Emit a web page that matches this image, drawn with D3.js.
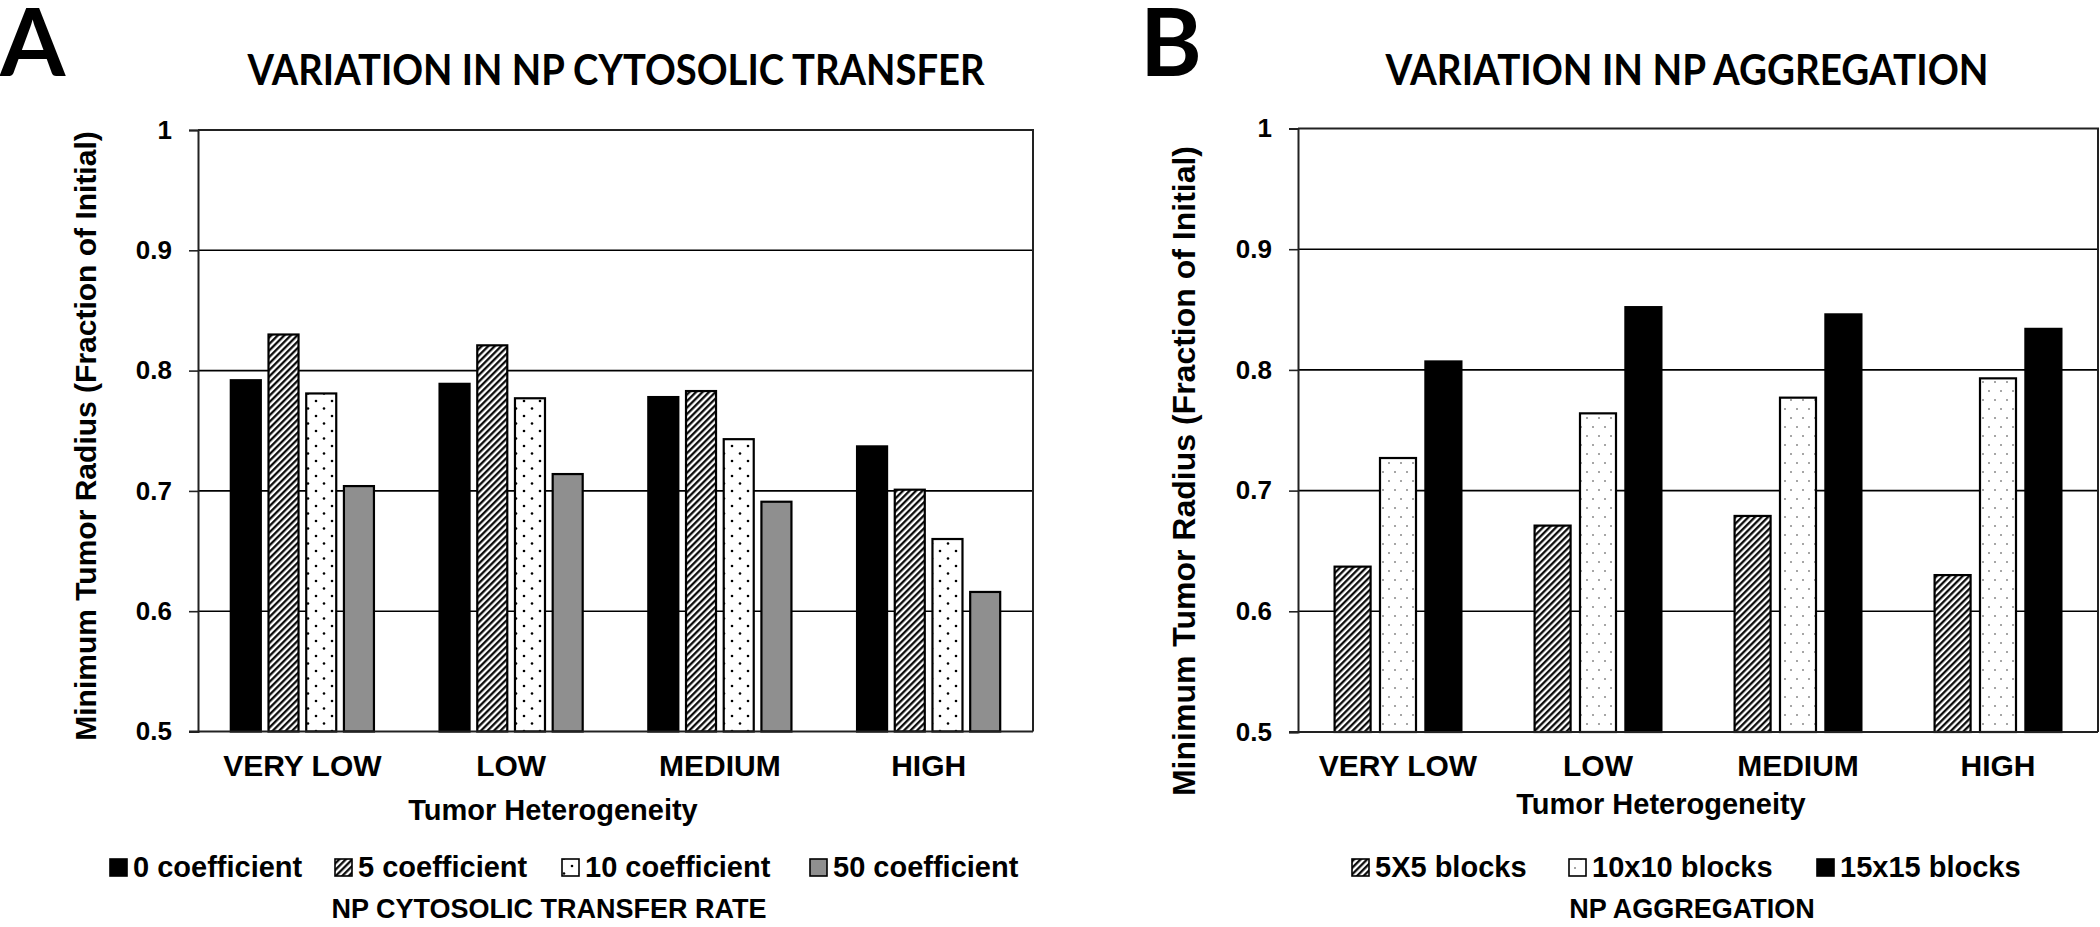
<!DOCTYPE html>
<html>
<head>
<meta charset="utf-8">
<script src="https://cdn.jsdelivr.net/npm/d3@7/dist/d3.min.js"></script>
<style>
  html, body { margin: 0; padding: 0; background: #fff; }
  svg { display: block; }
</style>
</head>
<body>
<svg id="chart" width="2100" height="927"></svg>
<script>
// ---------- DATA ----------
const categories = ["VERY LOW", "LOW", "MEDIUM", "HIGH"];
const yTickValues = [0.5, 0.6, 0.7, 0.8, 0.9, 1];
const yTickLabels = ["0.5", "0.6", "0.7", "0.8", "0.9", "1"];

// Panel A: variation in NP cytosolic transfer
const seriesA = ["0 coefficient", "5 coefficient", "10 coefficient", "50 coefficient"];
const coef0  = [0.792, 0.789, 0.778, 0.737];
const coef5  = [0.830, 0.821, 0.783, 0.701];
const coef10 = [0.781, 0.777, 0.743, 0.660];
const coef50 = [0.704, 0.714, 0.691, 0.616];

// Panel B: variation in NP aggregation
const seriesB = ["5X5 blocks", "10x10 blocks", "15x15 blocks"];
const blocks5  = [0.637, 0.671, 0.679, 0.630];
const blocks10 = [0.727, 0.764, 0.777, 0.793];
const blocks15 = [0.807, 0.852, 0.846, 0.834];

const titleA = "VARIATION IN NP CYTOSOLIC TRANSFER";
const titleB = "VARIATION IN NP AGGREGATION";
const yTitle = "Minimum Tumor Radius (Fraction of Initial)";
const xTitle = "Tumor Heterogeneity";
const legendTitleA = "NP CYTOSOLIC TRANSFER RATE";
const legendTitleB = "NP AGGREGATION";

// ---------- SETUP ----------
const svg = d3.select("#chart");
const ARIAL = "'Liberation Sans', Arial, sans-serif";
const CAL = "Lato, 'Open Sans', sans-serif";

const defs = svg.append("defs");
// diagonal hatch
const hatch = defs.append("pattern").attr("id", "hatch")
  .attr("patternUnits", "userSpaceOnUse").attr("width", 4.6).attr("height", 10)
  .attr("patternTransform", "rotate(45)");
hatch.append("rect").attr("width", 4.6).attr("height", 10).attr("fill", "#fff");
hatch.append("line").attr("x1", 1.2).attr("y1", 0).attr("x2", 1.2).attr("y2", 10)
  .attr("stroke", "#000").attr("stroke-width", 2.2);
// sparse black dots (panel A)
const dotsA = defs.append("pattern").attr("id", "dotsA")
  .attr("patternUnits", "userSpaceOnUse").attr("width", 16).attr("height", 15);
dotsA.append("rect").attr("width", 16).attr("height", 15).attr("fill", "#fff");
dotsA.append("circle").attr("cx", 4).attr("cy", 3.5).attr("r", 1.3).attr("fill", "#000");
dotsA.append("circle").attr("cx", 12).attr("cy", 11).attr("r", 1.3).attr("fill", "#000");
// light gray dots (panel B)
const dotsB = defs.append("pattern").attr("id", "dotsB")
  .attr("patternUnits", "userSpaceOnUse").attr("width", 12).attr("height", 18);
dotsB.append("rect").attr("width", 12).attr("height", 18).attr("fill", "#fff");
dotsB.append("circle").attr("cx", 3).attr("cy", 4).attr("r", 1).attr("fill", "#888");
dotsB.append("circle").attr("cx", 9).attr("cy", 13).attr("r", 1).attr("fill", "#888");

const stylesA = [
  { fill: "#000", stroke: "#000" },
  { fill: "url(#hatch)", stroke: "#000" },
  { fill: "url(#dotsA)", stroke: "#000" },
  { fill: "#8f8f8f", stroke: "#000" }
];
const stylesB = [
  { fill: "url(#hatch)", stroke: "#000" },
  { fill: "url(#dotsB)", stroke: "#000" },
  { fill: "#000", stroke: "#000" }
];

function panel(cfg) {
  const g = svg.append("g");
  const x0 = d3.scaleBand().domain(categories).range([cfg.left, cfg.right]).paddingInner(0).paddingOuter(0);
  const x1 = d3.scaleBand().domain(cfg.series).range([0, x0.bandwidth()])
    .paddingInner(cfg.pi).paddingOuter(cfg.po);
  const y = d3.scaleLinear().domain([0.5, 1]).range([cfg.bottom, cfg.top]);

  // gridlines
  g.append("g").selectAll("line").data(yTickValues.slice(1, -1)).join("line")
    .attr("x1", cfg.left).attr("x2", cfg.right)
    .attr("y1", d => y(d)).attr("y2", d => y(d))
    .attr("stroke", "#000").attr("stroke-width", 1.6);

  // bars
  const values = cfg.values;
  cfg.series.forEach((s, si) => {
    g.append("g").selectAll("rect").data(categories).join("rect")
      .attr("x", c => x0(c) + x1(s))
      .attr("y", (c, i) => y(values[si][i]))
      .attr("width", x1.bandwidth())
      .attr("height", (c, i) => y(0.5) - y(values[si][i]))
      .attr("fill", cfg.styles[si].fill)
      .attr("stroke", cfg.styles[si].stroke)
      .attr("stroke-width", 2.2);
  });

  // frame (top & right)
  g.append("path")
    .attr("d", `M${cfg.left},${cfg.top}H${cfg.right}V${cfg.bottom}`)
    .attr("fill", "none").attr("stroke", "#222").attr("stroke-width", 2);

  // y axis
  const yAxis = d3.axisLeft(y).tickValues(yTickValues).tickSize(9).tickPadding(17)
    .tickFormat((d, i) => yTickLabels[i]);
  const ya = g.append("g").attr("transform", `translate(${cfg.left},0)`).call(yAxis);
  ya.select(".domain").attr("stroke", "#222").attr("stroke-width", 2);
  ya.selectAll(".tick line").attr("stroke", "#222").attr("stroke-width", 1.6);
  ya.selectAll(".tick text").attr("font-family", ARIAL).attr("font-weight", "bold")
    .attr("font-size", 26).attr("fill", "#000");

  // x axis
  const xAxis = d3.axisBottom(x0).tickSize(0).tickPadding(23);
  const xa = g.append("g").attr("transform", `translate(0,${cfg.bottom})`).call(xAxis);
  xa.select(".domain").attr("d", `M${cfg.left - 9},0H${cfg.right}`)
    .attr("stroke", "#222").attr("stroke-width", 2);
  xa.selectAll(".tick text").attr("font-family", ARIAL).attr("font-weight", "bold")
    .attr("font-size", 30).attr("fill", "#000");

  // axis titles
  g.append("text").attr("x", cfg.xTitleX).attr("y", cfg.xTitleY)
    .attr("text-anchor", "middle").attr("font-family", ARIAL).attr("font-weight", "bold")
    .attr("font-size", 29).text(xTitle);
  g.append("text")
    .attr("transform", `translate(${cfg.yTitleX},${cfg.yTitleY}) rotate(-90)`)
    .attr("text-anchor", "middle").attr("font-family", ARIAL).attr("font-weight", "bold")
    .attr("font-size", cfg.yTitleSize).text(yTitle);

  // chart title + panel letter
  g.append("text").attr("x", cfg.titleX).attr("y", 85)
    .attr("text-anchor", "middle").attr("font-family", CAL).attr("font-weight", "bold")
    .attr("font-size", 42).attr("textLength", cfg.titleLen).attr("lengthAdjust", "spacingAndGlyphs")
    .text(cfg.title);
  g.append("text").attr("x", cfg.letterX).attr("y", 76)
    .attr("font-family", CAL).attr("font-weight", "bold").attr("font-size", 94)
    .text(cfg.letter);

  // legend
  const lg = g.append("g");
  cfg.series.forEach((s, si) => {
    const lx = cfg.legendX[si];
    lg.append("rect").attr("x", lx).attr("y", 859).attr("width", 17).attr("height", 17)
      .attr("fill", cfg.styles[si].fill).attr("stroke", "#000").attr("stroke-width", 1.6);
    lg.append("text").attr("x", lx + 23).attr("y", 877)
      .attr("font-family", ARIAL).attr("font-weight", "bold").attr("font-size", 29)
      .text(s);
  });
  g.append("text").attr("x", cfg.legendTitleX).attr("y", 918)
    .attr("text-anchor", "middle").attr("font-family", ARIAL).attr("font-weight", "bold")
    .attr("font-size", 27).text(cfg.legendTitle);
}

panel({
  left: 198, right: 1033, top: 130, bottom: 731.5,
  series: seriesA, values: [coef0, coef5, coef10, coef50], styles: stylesA,
  pi: 0.204, po: 0.87,
  xTitleX: 553, xTitleY: 820,
  yTitleX: 96, yTitleY: 436, yTitleSize: 30,
  title: titleA, titleX: 616, titleLen: 737, letter: "A", letterX: 0,
  legendX: [110, 335, 562, 810], legendTitle: legendTitleA, legendTitleX: 549
});

panel({
  left: 1298, right: 2098, top: 128.5, bottom: 732,
  series: seriesB, values: [blocks5, blocks10, blocks15], styles: stylesB,
  pi: 0.207, po: 0.806,
  xTitleX: 1661, xTitleY: 814,
  yTitleX: 1195, yTitleY: 471, yTitleSize: 32,
  title: titleB, titleX: 1687, titleLen: 603, letter: "B", letterX: 1140,
  legendX: [1352, 1569, 1817], legendTitle: legendTitleB, legendTitleX: 1692
});
</script>
</body>
</html>
